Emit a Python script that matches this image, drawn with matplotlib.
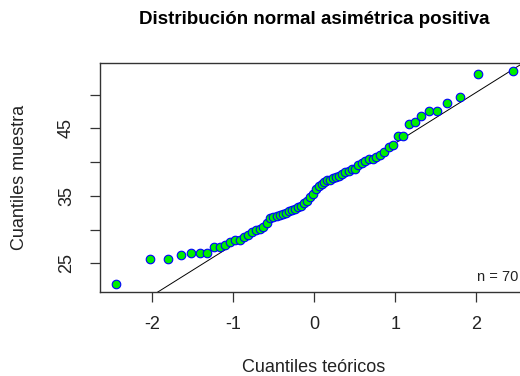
from statistics import NormalDist
import numpy as np
import matplotlib
matplotlib.use("Agg")
import matplotlib.pyplot as plt

# muestra ordenada (n = 70)
muestra = [
    22.0, 25.7, 25.7, 26.2, 26.5, 26.5, 26.5, 27.4, 27.4, 27.7,
    28.2, 28.4, 28.5, 28.9, 29.2, 29.7, 29.9, 30.15, 30.35, 30.9,
    31.7, 31.9, 32.0, 32.1, 32.3, 32.4, 32.7, 32.9, 33.1, 33.3,
    33.5, 34.0, 34.3, 34.8, 35.3, 36.0, 36.4, 36.8, 37.0, 37.3,
    37.4, 37.6, 37.8, 38.0, 38.2, 38.5, 38.7, 38.9, 39.0, 39.5,
    39.9, 40.2, 40.4, 40.5, 40.7, 41.0, 41.5, 42.2, 42.6, 43.8,
    43.9, 45.7, 46.0, 46.8, 47.6, 47.6, 48.8, 49.7, 53.0, 53.5,
]
xticks = [-2, -1, 0, 1, 2]
yticks = [25, 30, 35, 40, 45, 50]
ylabels = ["25", "", "35", "", "45", ""]

plt.rcParams["font.family"] = ["Liberation Sans", "DejaVu Sans"]
plt.rcParams["axes.unicode_minus"] = False

y = np.sort(np.array(muestra))
n = len(y)
nd = NormalDist()
# cuantiles teoricos como qqnorm (ppoints)
x = np.array([nd.inv_cdf((i - 0.5) / n) for i in range(1, n + 1)])

# qqline: recta por los cuartiles
q1, q3 = np.quantile(y, [0.25, 0.75])
z1, z3 = nd.inv_cdf(0.25), nd.inv_cdf(0.75)
pend = (q3 - q1) / (z3 - z1)
inter = q1 - pend * z1

fig = plt.figure(figsize=(5.2, 3.76), dpi=100)
ax = fig.add_axes([100 / 520, 84 / 376, 428.5 / 520, 229.5 / 376])

xr = x.max() - x.min()
yr = y.max() - y.min()
ax.set_xlim(x.min() - 0.04 * xr, x.max() + 0.04 * xr)
ax.set_ylim(y.min() - 0.04 * yr, y.max() + 0.04 * yr)

xx = np.array(ax.get_xlim())
ax.plot(xx, inter + pend * xx, color="black", lw=0.7, zorder=2)
ax.scatter(x, y, s=38, facecolor="#00ee00", edgecolor="#0000ff", linewidths=0.8, zorder=3)

ax.text(2.52, 23.0, "n = %d" % n, ha="right", va="center", fontsize=10.5, color="#222222")

ax.set_xticks(xticks)
ax.set_xticklabels([str(t) for t in xticks])
ax.set_yticks(yticks)
ax.set_yticklabels(ylabels)
ax.tick_params(axis="both", direction="out", length=7, width=0.9, colors="#333333",
               labelcolor="#222222", labelsize=13, pad=10)
ax.tick_params(axis="y", labelrotation=90, pad=11)
for lab in ax.get_yticklabels():
    lab.set_verticalalignment("center")
for s in ax.spines.values():
    s.set_color("#333333")
    s.set_linewidth(1.0)

fig.text(314 / 520, 1 - 20 / 376, "Distribución normal asimétrica positiva",
         ha="center", va="center", fontsize=13.5, fontweight="bold")
fig.text(314 / 520, 1 - 367 / 376, "Cuantiles teóricos", ha="center", va="center",
         fontsize=13, color="#222222")
fig.text(20 / 520, 1 - 177 / 376, "Cuantiles muestra", ha="center", va="center",
         rotation=90, fontsize=13, color="#222222")

fig.savefig("out.png", dpi=100)
